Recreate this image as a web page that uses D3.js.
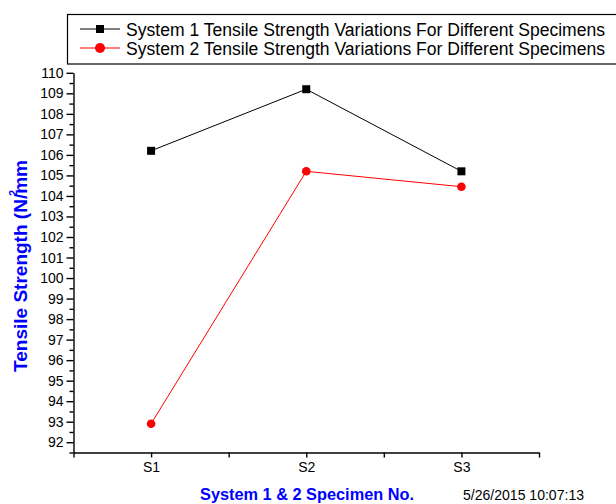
<!DOCTYPE html>
<html><head><meta charset="utf-8">
<script src="https://cdn.jsdelivr.net/npm/d3@7"></script>
<style>body{margin:0;background:#fff}svg{display:block;font-family:"Liberation Sans",Arial,sans-serif}</style>
</head><body>
<svg id="c" width="616" height="504"></svg>
<script>
const categories = ["S1","S2","S3"];
const system1 = [106.2, 109.2, 105.2];
const system2 = [92.9, 105.2, 104.45];
const seriesNames = ["System 1 Tensile Strength Variations For Different Specimens","System 2 Tensile Strength Variations For Different Specimens"];
const yTicks = [92,93,94,95,96,97,98,99,100,101,102,103,104,105,106,107,108,109,110];

const svg = d3.select("#c");
const x = d3.scaleLinear().domain([0.5,3.5]).range([73.5,539]);
const y = d3.scaleLinear().domain([91.5,110]).range([452.5,72.8]);

// axes
const yAxis = d3.axisLeft(y).tickValues(yTicks).tickSize(7).tickSizeOuter(0).tickPadding(3).tickFormat(d3.format("d"));
svg.append("g").attr("transform","translate(73.5,0)").call(yAxis);
const yMinor = d3.range(91.5,110.01,0.5).filter(v=>!yTicks.includes(v));
svg.append("g").attr("transform","translate(73.5,0)").call(d3.axisLeft(y).tickValues(yMinor).tickSize(4).tickFormat("")).select(".domain").remove();

svg.append("g").attr("transform","translate(0,452.5)")
  .call(d3.axisBottom(x).tickValues([1,2,3]).tickSize(5).tickSizeOuter(0).tickPadding(5).tickFormat((d,i)=>categories[i]));
svg.append("g").attr("transform","translate(0,452.5)")
  .call(d3.axisBottom(x).tickValues([0.5,1.5,2.5,3.5]).tickSize(5).tickFormat("")).select(".domain").remove();

svg.selectAll(".domain").attr("stroke","#000").attr("stroke-width",1.4);
svg.selectAll(".tick line").attr("stroke","#000").attr("stroke-width",1.4);
svg.selectAll(".tick text").attr("font-size",14).attr("fill","#000").attr("font-family","Liberation Sans, Arial, sans-serif");

// lines
const line = d3.line().x((d,i)=>x(i+1)).y(d=>y(d));
svg.append("path").datum(system1).attr("d",line).attr("fill","none").attr("stroke","#000").attr("stroke-width",1);
svg.append("path").datum(system2).attr("d",line).attr("fill","none").attr("stroke","#ff0000").attr("stroke-width",1);
svg.selectAll(".m1").data(system1).enter().append("rect")
  .attr("x",(d,i)=>x(i+1)-4).attr("y",d=>y(d)-4).attr("width",8).attr("height",8).attr("fill","#000");
svg.selectAll(".m2").data(system2).enter().append("circle")
  .attr("cx",(d,i)=>x(i+1)).attr("cy",d=>y(d)).attr("r",4.3).attr("fill","#ff0000");

// legend
svg.append("rect").attr("x",67.5).attr("y",14.5).attr("width",600).attr("height",49.5).attr("fill","none").attr("stroke","#000").attr("stroke-width",1.2);
const legY = [29, 48];
svg.append("line").attr("x1",80).attr("x2",120).attr("y1",legY[0]).attr("y2",legY[0]).attr("stroke","#000");
svg.append("rect").attr("x",96).attr("y",legY[0]-4).attr("width",8).attr("height",8).attr("fill","#000");
svg.append("line").attr("x1",80).attr("x2",120).attr("y1",legY[1]).attr("y2",legY[1]).attr("stroke","#ff0000");
svg.append("circle").attr("cx",100).attr("cy",legY[1]).attr("r",5).attr("fill","#ff0000");
seriesNames.forEach((n,i)=>{
  svg.append("text").attr("x",126).attr("y",legY[i]+7).attr("font-size",18).attr("fill","#000").text(n)
    .attr("textLength",479).attr("lengthAdjust","spacingAndGlyphs");
});

// axis titles
svg.append("text").attr("transform","translate(27,372) rotate(-90)")
  .attr("font-size",18.5).attr("font-weight","bold").attr("fill","#0000ff")
  .attr("textLength",212).attr("lengthAdjust","spacingAndGlyphs").text("Tensile Strength (N/mm");
svg.append("text").attr("transform","translate(17,196) rotate(-90)")
  .attr("font-size",11).attr("font-weight","bold").attr("fill","#0000ff").text("2");

svg.append("text").attr("x",200).attr("y",500).attr("font-size",17).attr("font-weight","bold").attr("fill","#0000ff")
  .attr("textLength",214).attr("lengthAdjust","spacingAndGlyphs").text("System 1 & 2 Specimen No.");
svg.append("text").attr("x",463).attr("y",500).attr("font-size",15).attr("fill","#000")
  .attr("textLength",121).attr("lengthAdjust","spacingAndGlyphs").text("5/26/2015 10:07:13");
</script>
</body></html>
